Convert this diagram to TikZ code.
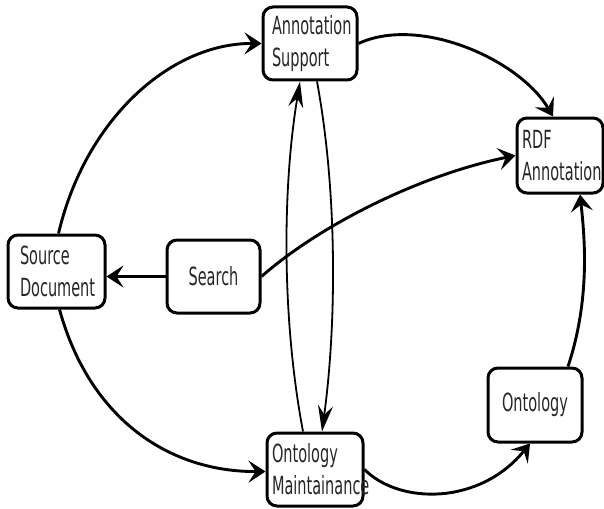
\documentclass[tikz,border=0pt]{standalone}
\usepackage{fontspec}
\newfontfamily\boxfont{DejaVu Sans}[FakeStretch=0.58]
\usetikzlibrary{arrows.meta}
\begin{document}
\begin{tikzpicture}[x=1pt,y=-1pt,
  box/.style={draw, line width=3pt, rounded corners=10pt, minimum height=73pt,
    inner ysep=0pt, font=\boxfont\fontsize{25}{32}\selectfont, text=black!85},
  lbox/.style={box, align=left},
  cbox/.style={box, align=center},
  link/.style={line width=2.9pt, -{Stealth[length=17pt,width=22pt,inset=7pt]}},
  vlink/.style={line width=1.8pt, -{Stealth[length=26pt,width=15pt,inset=9pt]}}]
\useasboundingbox (0,0) rectangle (604,508);
\clip (0,0) rectangle (604,508);

\node[lbox, text width=76pt, inner xsep=9pt] (as) at (310,43.5) {Annotation\\Support};
\node[lbox, text width=76pt, inner xsep=5pt, minimum height=75pt] (rdf) at (560,155.5) {RDF\\Annotation};
\node[lbox, text width=73pt, inner xsep=12pt] (src) at (56.5,271.5) {Source\\Document};
\node[cbox, text width=83pt, inner xsep=5pt] (search) at (213.5,276.5) {Search};
\node[lbox, text width=86pt, inner xsep=5pt] (om) at (315,469.5) {Ontology\\Maintainance};
\node[cbox, text width=84pt, inner xsep=5pt, minimum height=74pt] (onto) at (535,405) {Ontology};

\draw[link] ([xshift=2pt]src.north) .. controls (85,120) and (170,43) .. (as.west);
\draw[link] (as.east) .. controls (420,15) and (520,60) .. ([xshift=-7pt]rdf.north);
\draw[link] (search.east) .. controls (320,225) and (420,175) .. (rdf.west);
\draw[link] (search.west) -- (src.east |- search.west);
\draw[link] ([xshift=3pt]src.south) .. controls (90,420) and (170,472) .. ([yshift=-2pt]om.west);
\draw[link] (om.east) .. controls (400,505) and (480,505) .. ([xshift=-5pt]onto.south);
\draw[link] ([xshift=33pt]onto.north) .. controls (590,300) and (585,240) .. ([xshift=20pt]rdf.south);
\draw[vlink] ([xshift=-12pt]om.north) .. controls (282,320) and (282,190) .. ([xshift=-10pt]as.south);
\draw[vlink] ([xshift=7pt]as.south) .. controls (337,190) and (337,320) .. ([xshift=7pt]om.north);
\end{tikzpicture}
\end{document}
